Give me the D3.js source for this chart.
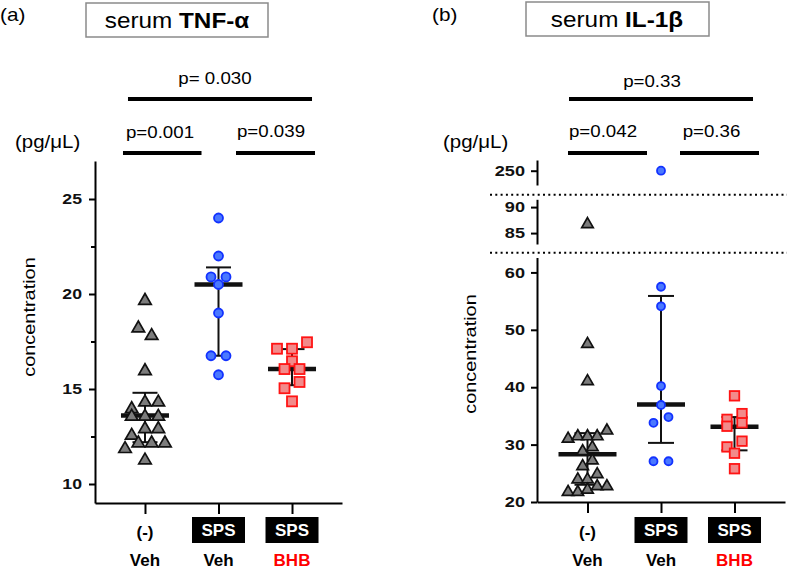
<!DOCTYPE html>
<html><head><meta charset="utf-8">
<script src="https://cdn.jsdelivr.net/npm/d3@7"></script>
<style>body{margin:0;background:#fff}svg{display:block}</style>
</head><body><svg id="c" width="787" height="574"></svg>
<script>
// ---------- data ----------
const groupTop = ["(-)", "SPS", "SPS"];
const groupBottom = ["Veh", "Veh", "BHB"];

const tnfVeh = [19.7, 18.25, 17.85, 16.0, 14.35, 14.35, 14.0, 13.6, 13.6, 13.6, 12.95, 12.95, 12.6, 12.2, 12.2, 12.2, 11.9, 11.3];
const tnfSpsVeh = [24.0, 22.0, 20.9, 20.9, 20.5, 19.0, 16.75, 16.75, 15.75];
const tnfSpsBhb = [17.46, 17.12, 17.12, 16.46, 16.05, 16.05, 15.37, 15.04, 14.35];
const tnfMedian = [13.6, 20.5, 16.05];
const tnfLower = [12.2, 16.75, 15.2];
const tnfUpper = [14.8, 21.4, 17.1];
const tnfTicks = [10, 15, 20, 25];
const tnfMinorTicks = [12.5, 17.5, 22.5];
const tnfP = ["p=0.001", "p=0.039", "p= 0.030"];

const il1bVeh = [86.9, 47.7, 41.2, 32.6, 31.6, 31.6, 31.6, 31.2, 29.7, 29.0, 27.4, 26.4, 25.0, 24.1, 24.1, 22.9, 22.9, 22.3, 21.9, 21.9];
const il1bSpsVeh = [250, 57.5, 54.1, 40.2, 36.9, 34.8, 33.8, 27.1, 27.1];
const il1bSpsBhb = [38.5, 35.4, 34.4, 33.8, 33.2, 30.6, 29.6, 28.5, 25.8];
const il1bMedian = [28.3, 37.0, 33.1];
const il1bLower = [23.0, 30.3, 29.0];
const il1bUpper = [32.0, 55.9, 34.8];
const il1bTicksLow = [20, 30, 40, 50, 60];
const il1bTicksMid = [85, 90];
const il1bTicksTop = [250];
const il1bP = ["p=0.042", "p=0.36", "p=0.33"];

// ---------- helpers ----------
const FONT = "'Liberation Sans', Arial, Helvetica, sans-serif";
const svg = d3.select("#c");

function txt(g, x, y, s, o = {}) {
  const t = g.append("text")
    .attr("transform", `translate(${x},${y})${o.rot ? " rotate(" + o.rot + ")" : ""} scale(${o.sx || 1},1)`)
    .attr("font-family", FONT).attr("font-size", o.size || 16)
    .attr("font-weight", o.weight || "normal")
    .attr("text-anchor", o.anchor || "start")
    .attr("fill", o.fill || "#000");
  if (o.parts) {
    o.parts.forEach(p => t.append("tspan").attr("font-weight", p.w).text(p.t));
  } else t.text(s);
  return t;
}

function styleAxis(g, sx) {
  g.select(".domain").attr("stroke", "#000").attr("stroke-width", 2);
  g.selectAll(".tick line").attr("stroke", "#000").attr("stroke-width", 2);
  g.selectAll(".tick text").each(function () {
    const el = d3.select(this);
    const x = +el.attr("x") || 0;
    el.attr("x", 0).attr("transform", `translate(${x},0) scale(${sx || 1.25},1)`)
      .attr("font-family", FONT).attr("font-size", 14.5).attr("font-weight", "bold").attr("fill", "#111");
  });
}

// row-based dot layout (like a scatter dot plot)
function layoutRows(values, y, cx, spacing, thr) {
  const pts = values.map(v => ({ v, y: y(v) })).sort((a, b) => a.y - b.y);
  const rows = [];
  pts.forEach(p => {
    const r = rows[rows.length - 1];
    if (r && Math.abs(p.y - r[0].y) <= thr) r.push(p); else rows.push([p]);
  });
  const out = [];
  let prev = null;
  rows.forEach(r => {
    r.sort((a, b) => b.y - a.y);
    const n = r.length;
    r.forEach((p, i) => { p.x = cx + (i - (n - 1) / 2) * spacing; out.push(p); });
    if (n === 1 && prev && prev.length === 1 && Math.abs(prev[0].y - r[0].y) < 10 && prev[0].x === cx) {
      prev[0].x = cx - spacing / 2; r[0].x = cx + spacing / 2;
    }
    prev = r;
  });
  return out;
}

const shapeStyle = [
  { fill: "#7c7c7c", stroke: "#111" },
  { fill: "#4a78ff", stroke: "#1232ff" },
  { fill: "#f28a8a", stroke: "#ff1414" }
];

function drawPoints(g, pts, gi, sz) {
  const st = shapeStyle[gi];
  if (gi === 0) {
    const tri = d3.symbol(d3.symbolTriangle, sz.tri * sz.tri * Math.sqrt(3) / 4);
    g.selectAll(null).data(pts).join("path")
      .attr("d", tri).attr("transform", d => `translate(${d.x},${d.y + 1})`)
      .attr("fill", st.fill).attr("stroke", st.stroke).attr("stroke-width", 1.7);
  } else if (gi === 1) {
    g.selectAll(null).data(pts).join("circle")
      .attr("cx", d => d.x).attr("cy", d => d.y).attr("r", sz.r)
      .attr("fill", st.fill).attr("stroke", st.stroke).attr("stroke-width", 1.8);
  } else {
    g.selectAll(null).data(pts).join("rect")
      .attr("x", d => d.x - sz.sq / 2).attr("y", d => d.y - sz.sq / 2)
      .attr("width", sz.sq).attr("height", sz.sq)
      .attr("fill", st.fill).attr("stroke", st.stroke).attr("stroke-width", 1.8);
  }
}

function drawSummary(g, x, y, med, lo, hi, medW, capW) {
  [0, 1, 2].forEach(i => {
    const cx = x(i);
    g.append("line").attr("x1", cx).attr("x2", cx).attr("y1", y(lo[i])).attr("y2", y(hi[i]))
      .attr("stroke", "#111").attr("stroke-width", 2);
    [lo[i], hi[i]].forEach(v => g.append("line").attr("x1", cx - capW / 2).attr("x2", cx + capW / 2)
      .attr("y1", y(v)).attr("y2", y(v)).attr("stroke", "#111").attr("stroke-width", 2));
    const w = Array.isArray(medW) ? medW[i] : medW;
    g.append("line").attr("x1", cx - w / 2).attr("x2", cx + w / 2)
      .attr("y1", y(med[i])).attr("y2", y(med[i])).attr("stroke", "#111").attr("stroke-width", 4.5);
  });
}

function drawXLabels(g, x, yTop) {
  [0, 1, 2].forEach(i => {
    const cx = x(i);
    if (groupTop[i] === "SPS") {
      g.append("rect").attr("x", cx - 26.5).attr("y", yTop - 21).attr("width", 53).attr("height", 26).attr("fill", "#000");
      txt(g, cx, yTop - 2, groupTop[i], { size: 17, weight: "bold", anchor: "middle", fill: "#fff" });
    } else {
      txt(g, cx, yTop, groupTop[i], { size: 17, weight: "bold", anchor: "middle" });
    }
    txt(g, cx, yTop + 28, groupBottom[i], { size: 17, weight: "bold", anchor: "middle",
      fill: groupBottom[i] === "BHB" ? "#ff0000" : "#000" });
  });
}

function bracket(g, x1, x2, y) {
  g.append("line").attr("x1", x1).attr("x2", x2).attr("y1", y).attr("y2", y)
    .attr("stroke", "#000").attr("stroke-width", 3.8);
}

// ---------- panel (a) ----------
const ga = svg.append("g");
const ya = d3.scaleLinear().domain([9, 27]).range([503, 161]);
const xa = d3.scalePoint().domain([0, 1, 2]).range([95, 342]).padding(0.68);

txt(ga, 0, 21, "(a)", { size: 18, sx: 1.15 });
ga.append("rect").attr("x", 86).attr("y", 3).attr("width", 182).attr("height", 34)
  .attr("fill", "none").attr("stroke", "#8a8a8a").attr("stroke-width", 1.5);
txt(ga, 177, 28, null, { size: 21.5, sx: 1.13, anchor: "middle", parts: [{ t: "serum ", w: "normal" }, { t: "TNF-α", w: "bold" }] });

bracket(ga, xa(0) - 17, xa(2) + 20, 99);
bracket(ga, xa(0) - 22, xa(1) - 17, 153);
bracket(ga, xa(1) + 17.5, xa(2) + 23, 153);
txt(ga, (xa(0) + xa(2)) / 2 - 3.5, 84, tnfP[2], { size: 17, sx: 1.1, anchor: "middle" });
txt(ga, xa(0) + 15, 138, tnfP[0], { size: 17, sx: 1.1, anchor: "middle" });
txt(ga, xa(2) - 21, 137, tnfP[1], { size: 17, sx: 1.1, anchor: "middle" });
txt(ga, 15, 148, "(pg/μL)", { size: 17.5, sx: 1.17 });
txt(ga, 35, 317, "concentration", { size: 17, sx: 1.17, rot: -90, anchor: "middle" });

ga.append("g").attr("transform", "translate(95,0)")
  .call(d3.axisLeft(ya).tickValues(tnfTicks).tickFormat(d3.format("d")).tickSize(6).tickSizeOuter(0).tickPadding(7))
  .call(g => styleAxis(g, 1.22));
ga.append("g").attr("transform", "translate(95,0)")
  .call(d3.axisLeft(ya).tickValues(tnfMinorTicks).tickSize(4).tickFormat("").tickSizeOuter(0))
  .call(g => { g.select(".domain").remove(); styleAxis(g); });
ga.append("g").attr("transform", `translate(0,${ya(9)})`)
  .call(d3.axisBottom(xa).tickSize(11).tickFormat("").tickSizeOuter(0))
  .call(g => styleAxis(g));

drawSummary(ga, xa, ya, tnfMedian, tnfLower, tnfUpper, 48, 25);
const sizeA = { tri: 12.5, r: 4.5, sq: 10 };
[tnfVeh, tnfSpsVeh, tnfSpsBhb].forEach((vals, gi) => {
  const pts = layoutRows(vals, ya, xa(gi), gi === 0 ? 13.3 : 15, 7.5);
  drawPoints(ga, pts, gi, sizeA);
});
drawXLabels(ga, xa, 538);

// ---------- panel (b) ----------
const gb = svg.append("g");
const ybLow = d3.scaleLinear().domain([20, 62.6]).range([502, 257.5]);
const ybMid = d3.scaleLinear().domain([82.9, 91.5]).range([244, 199.3]);
const ybTop = d3.scaleLinear().domain([247.2, 252.1]).range([185, 160]);
const yb = v => (v >= 200 ? ybTop(v) : v >= 70 ? ybMid(v) : ybLow(v));
const xb = d3.scalePoint().domain([0, 1, 2]).range([537, 785]).padding(0.687);

txt(gb, 432, 21, "(b)", { size: 18, sx: 1.15 });
gb.append("rect").attr("x", 526).attr("y", 2).attr("width", 183).attr("height", 34)
  .attr("fill", "none").attr("stroke", "#8a8a8a").attr("stroke-width", 1.5);
txt(gb, 617, 27, null, { size: 21.5, sx: 1.13, anchor: "middle", parts: [{ t: "serum ", w: "normal" }, { t: "IL-1β", w: "bold" }] });

bracket(gb, xb(0) - 18.5, xb(2) + 18.5, 99);
bracket(gb, xb(0) - 19.5, xb(1) - 14, 153);
bracket(gb, xb(1) + 19, xb(2) + 24.5, 153);
txt(gb, (xb(0) + xb(2)) / 2 - 9, 87, il1bP[2], { size: 17, sx: 1.1, anchor: "middle" });
txt(gb, xb(0) + 15.5, 137, il1bP[0], { size: 17, sx: 1.1, anchor: "middle" });
txt(gb, xb(2) - 23, 137, il1bP[1], { size: 17, sx: 1.1, anchor: "middle" });
txt(gb, 443, 148, "(pg/μL)", { size: 17.5, sx: 1.17 });
txt(gb, 476, 354, "concentration", { size: 17, sx: 1.17, rot: -90, anchor: "middle" });

[[ybLow, il1bTicksLow], [ybMid, il1bTicksMid], [ybTop, il1bTicksTop]].forEach(([s, tv]) => {
  gb.append("g").attr("transform", "translate(537,0)")
    .call(d3.axisLeft(s).tickValues(tv).tickFormat(d3.format("d")).tickSize(6).tickSizeOuter(0).tickPadding(6))
    .call(g => styleAxis(g, 1.25));
});
gb.append("g").attr("transform", `translate(0,${ybLow(20)})`)
  .call(d3.axisBottom(xb).tickSize(11).tickFormat("").tickSizeOuter(0))
  .call(g => styleAxis(g));

[(ybTop.range()[0] + ybMid.range()[1]) / 2 + 2.5, (ybMid.range()[0] + ybLow.range()[1]) / 2 + 2].forEach(y => {
  gb.append("line").attr("x1", 490).attr("x2", 787).attr("y1", y).attr("y2", y)
    .attr("stroke", "#000").attr("stroke-width", 2).attr("stroke-dasharray", "2,3.3");
});

drawSummary(gb, xb, yb, il1bMedian, il1bLower, il1bUpper, [58, 48, 48], 26);
const sizeB = { tri: 11.5, r: 4, sq: 9.5 };
[il1bVeh, il1bSpsVeh, il1bSpsBhb].forEach((vals, gi) => {
  const pts = layoutRows(vals, yb, xb(gi), gi === 0 ? 9.7 : 15, 8.5);
  drawPoints(gb, pts, gi, sizeB);
});
drawXLabels(gb, xb, 538);
</script></body></html>
